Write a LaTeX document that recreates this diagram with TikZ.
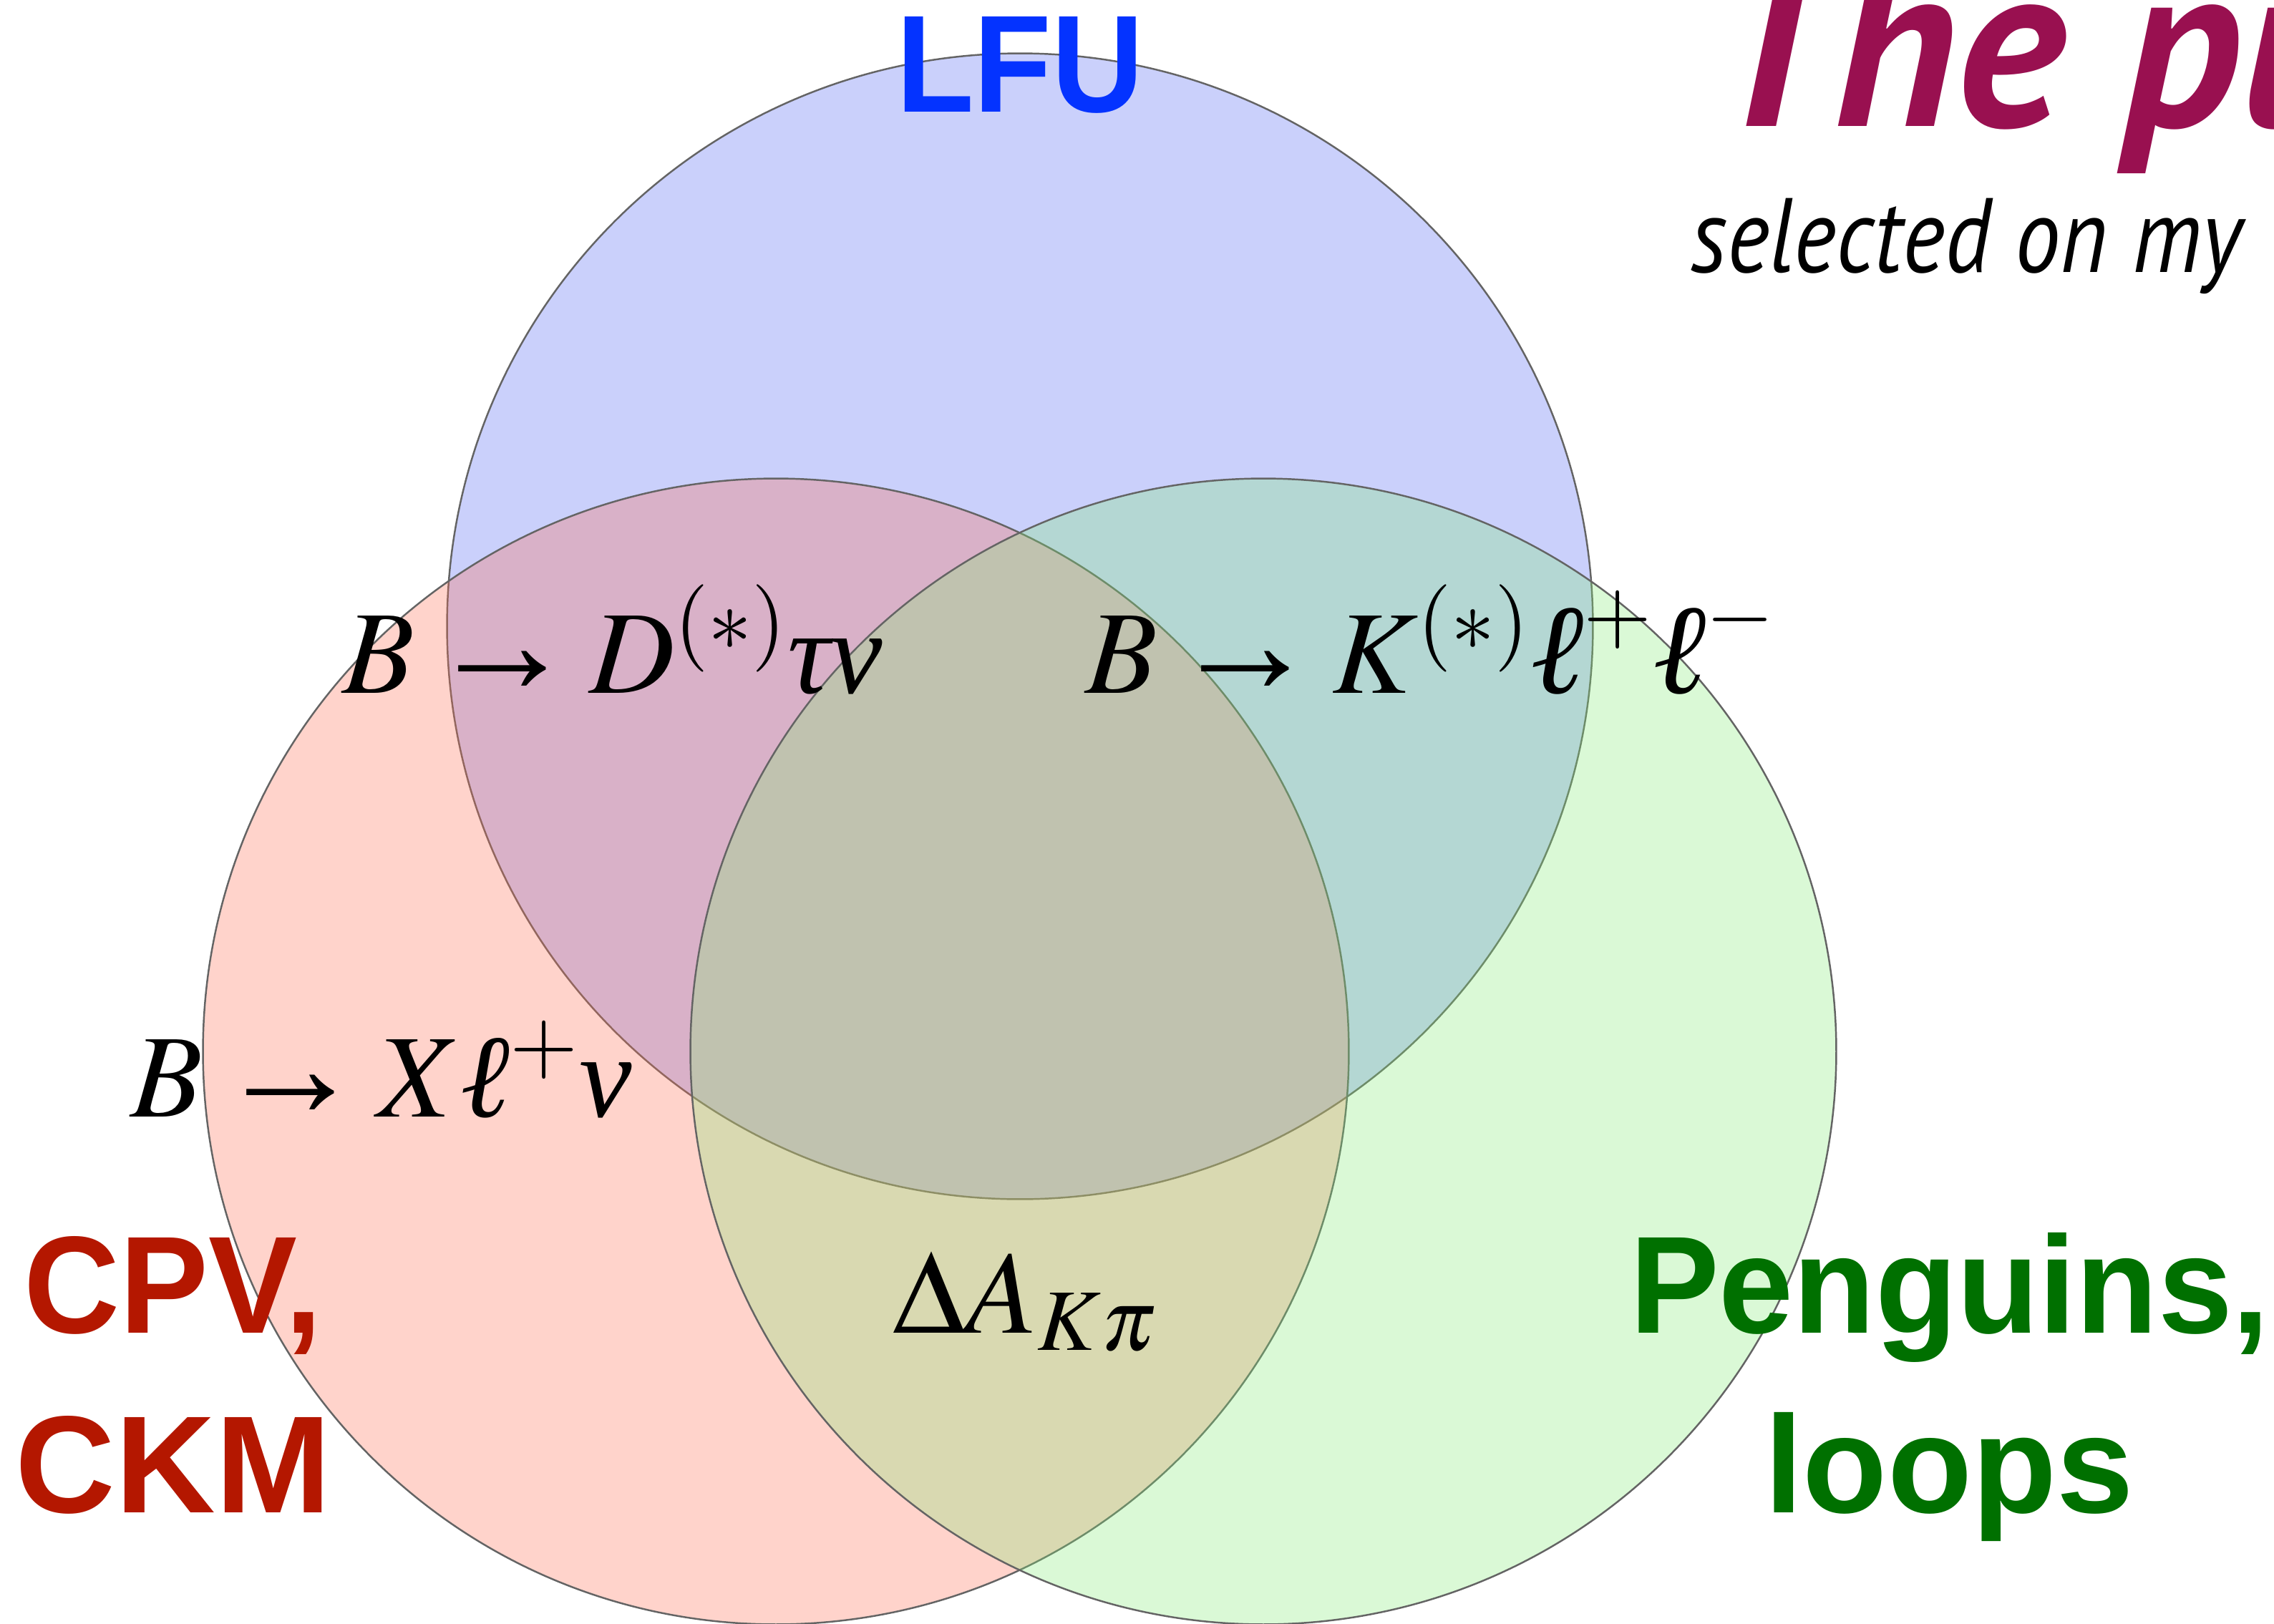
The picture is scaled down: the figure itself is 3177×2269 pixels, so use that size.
\documentclass[tikz,border=0pt]{standalone}
\usepackage{mathptmx}
\usepackage{amsmath}
\usepackage[no-math]{fontspec}
\usepackage{graphicx}
\newfontfamily\labelfont{Liberation Sans}
\newfontfamily\titlefont{PT Sans}
\newfontfamily\tms{Liberation Serif}
\newcommand{\tgr}[1]{\text{\tms\itshape #1}}
\newcommand{\tarr}{\mathrel{\mkern-2mu\text{\tms\scalebox{1.25}{→}}\mkern-2mu}}
\definecolor{lfublue}{RGB}{4,51,255}
\definecolor{cpvred}{RGB}{180,23,0}
\definecolor{pengreen}{RGB}{0,112,0}
\definecolor{titlecol}{RGB}{153,16,80}
\definecolor{fillblue}{RGB}{78,98,242}
\definecolor{fillred}{RGB}{255,108,82}
\definecolor{fillgreen}{RGB}{132,235,118}
\definecolor{ringgray}{RGB}{100,100,100}
\tikzset{
  vennset/.style={circle, draw=ringgray, line width=0.7pt, fill opacity=0.3, draw opacity=1,
    minimum size=16cm, inner sep=0pt},
  catlabel/.style={inner sep=0pt, anchor=base, font=\labelfont\bfseries\fontsize{55}{60}\selectfont},
  mathlabel/.style={inner sep=0pt, anchor=base west, font=\fontsize{47}{50}\selectfont},
}
\begin{document}
\begin{tikzpicture}[x=0.01cm, y=-0.01cm]
\useasboundingbox (0,0) rectangle (3177,2269);
% sets
\node[vennset, fill=fillblue] (lfuset) at (1425,875) {};
\node[vennset, fill=fillred] (cpvset) at (1084,1469) {};
\node[vennset, fill=fillgreen] (penset) at (1765,1469) {};
% category labels
\node[catlabel, text=lfublue] (lfu) at (1425,156) {\scalebox{0.92}[1]{LFU}};
\node[catlabel, text=cpvred] (cpv) at (242,1862) {\scalebox{0.96}[1]{CPV,}};
\node[catlabel, text=cpvred] (ckm) at (242,2113) {CKM};
\node[catlabel, text=pengreen] (peng) at (2724,1862) {\scalebox{0.967}[1]{Penguins,}};
\node[catlabel, text=pengreen] (loops) at (2723,2113) {loops};
% processes
\node[mathlabel] (dtaunu) at (478,968) {$B\tarr D^{(*)}\tgr{τν}$};
\node[mathlabel] (kll) at (1516,968) {$B\tarr K^{(*)}\tgr{\scalebox{1.08}{ℓ}}^+\tgr{\scalebox{1.08}{ℓ}}^-$};
\node[mathlabel] (xlnu) at (182,1560) {$B\tarr X\tgr{ℓ}^+\tgr{ν}$};
\node[mathlabel] (dakpi) at (1247,1862) {$\Delta A_{K\pi}$};
% title
\node[inner sep=0pt, anchor=base west, text=titlecol, font=\titlefont\bfseries\itshape\fontsize{94}{98}\selectfont] (title) at (2385,176) {\scalebox{0.98}[1]{The pu}};
\node[inner sep=0pt, anchor=base west, font=\titlefont\itshape\fontsize{42}{46}\selectfont] (subtitle) at (2362,380) {\scalebox{0.86}[1]{selected on my}};
\end{tikzpicture}
\end{document}
